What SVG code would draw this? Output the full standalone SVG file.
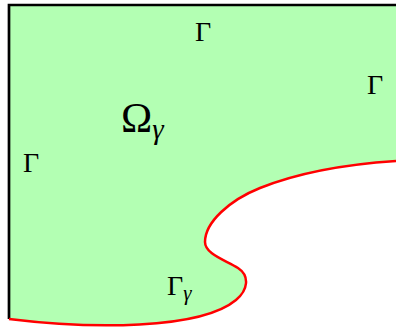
<svg xmlns="http://www.w3.org/2000/svg" width="396" height="329" viewBox="0 0 396 329">
<style>
.lbl{font-family:"Liberation Serif","DejaVu Serif",serif;fill:#000}
.sub{font-style:italic}
</style>
<g id="domain">
<path d="M 9,5 H 396 V 161 C 350,164 300,172 260,188 C 230,200 205,222 205,242 C 205,254 225,260 238,268 C 250,276 248,290 236,300 C 200,330 90,329 9,319 Z" fill="#b3ffb3" stroke="none"/>
<path d="M 396,5 H 9 V 319" fill="none" stroke="#000" stroke-width="2.7"/>
<path d="M 9,319 C 90,329 200,330 236,300 C 248,290 250,276 238,268 C 225,260 205,254 205,242 C 205,222 230,200 260,188 C 300,172 350,164 396,161" fill="none" stroke="#f00" stroke-width="2.5"/>
</g>
<g id="labels">
<text class="lbl" x="195" y="41" font-size="28">Γ</text>
<text class="lbl" x="367" y="94" font-size="28">Γ</text>
<text class="lbl" x="23" y="172" font-size="28">Γ</text>
<text class="lbl" x="121" y="132" font-size="42">Ω<tspan class="sub" font-size="29" dy="7">γ</tspan></text>
<text class="lbl" x="167" y="295" font-size="28">Γ<tspan class="sub" font-size="21" dy="5">γ</tspan></text>
</g>
</svg>
